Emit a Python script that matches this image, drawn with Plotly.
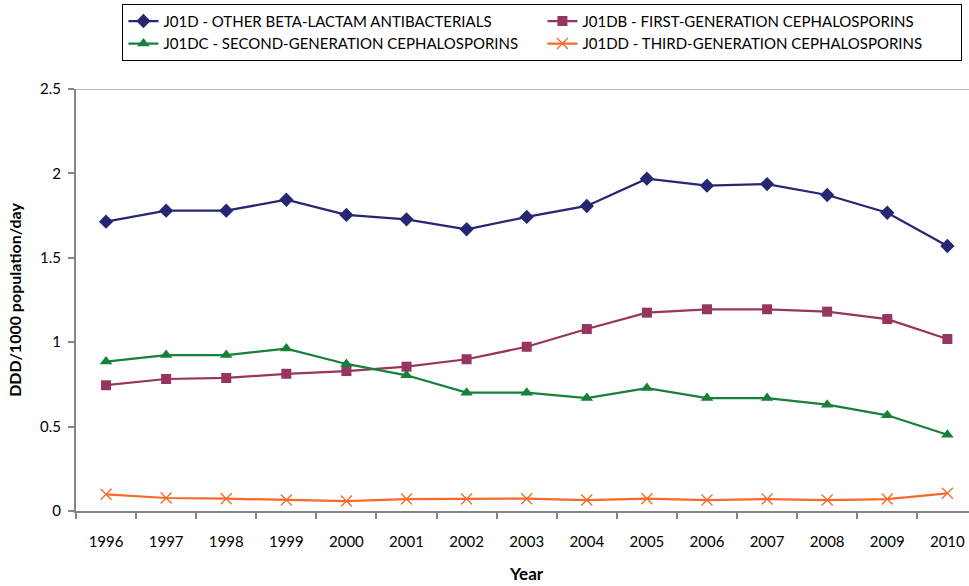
import plotly.graph_objects as go

years = ["1996", "1997", "1998", "1999", "2000", "2001", "2002", "2003",
         "2004", "2005", "2006", "2007", "2008", "2009", "2010"]

j01d = [1.714, 1.779, 1.779, 1.844, 1.754, 1.728, 1.669, 1.742,
        1.807, 1.969, 1.927, 1.937, 1.872, 1.767, 1.570]
j01db = [0.745, 0.782, 0.788, 0.813, 0.829, 0.855, 0.899, 0.973,
         1.078, 1.175, 1.195, 1.195, 1.181, 1.137, 1.019]
j01dc = [0.885, 0.924, 0.924, 0.962, 0.871, 0.804, 0.701, 0.701,
         0.669, 0.728, 0.669, 0.669, 0.630, 0.567, 0.452]
j01dd = [0.099, 0.077, 0.073, 0.065, 0.059, 0.071, 0.071, 0.073,
         0.065, 0.073, 0.065, 0.071, 0.065, 0.071, 0.105]

series = [
    ("J01D - OTHER BETA-LACTAM ANTIBACTERIALS", j01d, "#262673", "diamond", 11, None),
    ("J01DB - FIRST-GENERATION CEPHALOSPORINS", j01db, "#953560", "square", 10, None),
    ("J01DC - SECOND-GENERATION CEPHALOSPORINS", j01dc, "#17803a", "triangle-up", 11, None),
    ("J01DD - THIRD-GENERATION CEPHALOSPORINS", j01dd, "#f5692b", "x-thin-open", 11, 1.3),
]

FONT = "Lato"
AXIS_GREY = "#868686"

fig = go.Figure()
for name, vals, color, symbol, size, mlw in series:
    marker = dict(symbol=symbol, size=size, color=color)
    if mlw is not None:
        marker["line"] = dict(color=color, width=mlw)
    fig.add_trace(go.Scatter(
        x=years, y=vals, name=name, mode="lines+markers",
        line=dict(color=color, width=2.25),
        marker=marker,
    ))

# light top rule at the axis maximum
fig.add_shape(type="line", xref="paper", yref="y", x0=0, x1=1, y0=2.5, y1=2.5,
              line=dict(color="#a6a6a6", width=1.5), layer="below")

fig.add_annotation(text="Year", xref="paper", yref="paper",
                   x=0.5048, y=0, yshift=-62, yanchor="middle", showarrow=False,
                   font=dict(family=FONT, size=17, color="black", weight="bold"))

fig.update_layout(
    width=969, height=586,
    margin=dict(l=76, r=0, t=89, b=75),
    paper_bgcolor="white", plot_bgcolor="white",
    font=dict(family=FONT, size=15, color="black"),
    showlegend=True,
    legend=dict(
        orientation="h", x=0.052, xanchor="left", y=1.202, yanchor="top",
        entrywidth=374, entrywidthmode="pixels",
        bordercolor="black", borderwidth=1,
        font=dict(family=FONT, size=15, color="black"),
        itemwidth=30,
    ),
    xaxis=dict(
        type="category", range=[-0.5, 14.36],
        tickson="boundaries", ticks="outside", ticklen=6, tickcolor=AXIS_GREY,
        tickwidth=1.5,
        showline=True, linecolor=AXIS_GREY, linewidth=2,
        showgrid=False, zeroline=False,
        ticklabelstandoff=16,
        tickfont=dict(family=FONT, size=15),
    ),
    yaxis=dict(
        range=[0, 2.5], tickvals=[0, 0.5, 1, 1.5, 2, 2.5],
        ticktext=["0", "0.5", "1", "1.5", "2", "2.5"],
        ticks="outside", ticklen=6, tickcolor=AXIS_GREY, tickwidth=1.5,
        showline=True, linecolor=AXIS_GREY, linewidth=2,
        showgrid=False, zeroline=False,
        ticklabelstandoff=4,
        tickfont=dict(family=FONT, size=15),
        title=dict(text="DDD/1000 population/day", standoff=14,
                   font=dict(family=FONT, size=16, weight="bold")),
    ),
)

fig.write_html("out.html")
